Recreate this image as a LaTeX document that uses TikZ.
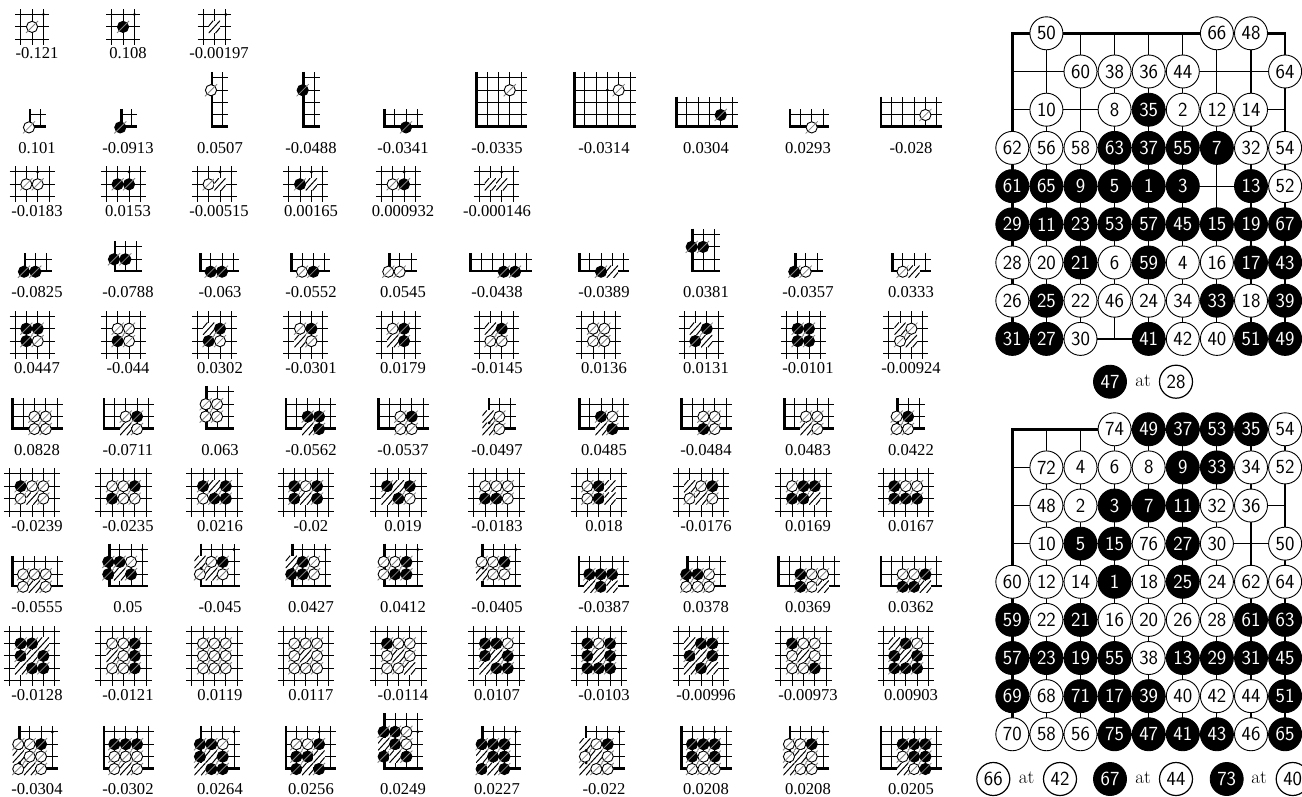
\documentclass[tikz,border=0pt]{standalone}
\usepackage{fontspec}
\newfontfamily\valfont{Liberation Serif}
\usetikzlibrary{positioning}

\newcounter{patt}
\def\laby{0}

% stones of one pattern: origin x, origin y, list of col/row/kind
\newcommand{\putstones}[3]{%
  \foreach \cc/\rr/\kk [count=\nn] in {#3} {
    \node[go\kk] (p\thepatt-\nn) at ({#1+\cc*11.35},{#2-\rr*12.4}) {};
  }
}

% open pattern: x0, bottom y, columns, rows, label x, label, stones
\newcommand{\freepat}[7]{%
  \stepcounter{patt}
  \foreach \ii in {1,...,#3}
    \draw[gridl] ({#1+(\ii-1)*11.35},{#2+5.5}) -- ({#1+(\ii-1)*11.35},{#2-(#4-1)*12.4-5.5});
  \foreach \jj in {1,...,#4}
    \draw[gridl] ({#1-5.5},{#2-(\jj-1)*12.4}) -- ({#1+(#3-1)*11.35+5.5},{#2-(\jj-1)*12.4});
  \putstones{#1}{#2}{#7}
  \node[vallbl] (v\thepatt) at (#5,\laby) {#6};
}

% corner pattern: bold x, bold y, columns, rows, label x, label, stones
\newcommand{\cornerpat}[7]{%
  \stepcounter{patt}
  \pgfmathsetmacro{\xo}{#1-1}
  \pgfmathsetmacro{\yo}{#2+0.7}
  \pgfmathsetmacro{\xe}{\xo+(#3-1)*11.35+5.5}
  \pgfmathsetmacro{\ye}{\yo-(#4-1)*12.4-6}
  \foreach \ii in {2,...,#3}
    \draw[gridl] ({\xo+(\ii-1)*11.35},\yo) -- ({\xo+(\ii-1)*11.35},\ye);
  \foreach \jj in {2,...,#4}
    \draw[gridl] (\xo,{\yo-(\jj-1)*12.4}) -- (\xe,{\yo-(\jj-1)*12.4});
  \draw[edgel] (#1,\ye) -- (#1,#2) -- (\xe,#2);
  \putstones{\xo}{\yo}{#7}
  \node[vallbl] (v\thepatt) at (#5,\laby) {#6};
}

\begin{document}
\begin{tikzpicture}[
    x=1pt, y=-1pt,
    gridl/.style={line width=1pt},
    edgel/.style={line width=2.8pt, line join=miter},
    slashl/.style={black!50, line width=0.8pt, shorten <=-2.5pt, shorten >=-2.5pt},
    vallbl/.style={font=\valfont\fontsize{16.6}{17}\selectfont, inner sep=0pt},
    gow/.style={draw, circle, fill=white, line width=0.9pt, minimum size=11.2pt, inner sep=0pt,
      append after command={(\tikzlastnode.south west) edge[slashl] (\tikzlastnode.north east)}},
    gob/.style={gow, fill=black},
    goh/.style={rectangle, fill=white, inner sep=0pt, minimum width=11.35pt, minimum height=12.4pt,
      path picture={
        \draw[line width=1pt] (path picture bounding box.south west) -- (path picture bounding box.north east);
        \draw[line width=1pt] ([yshift=7pt]path picture bounding box.south west) -- ([xshift=4.5pt]path picture bounding box.north west);
        \draw[line width=1pt] ([xshift=-4.5pt]path picture bounding box.south east) -- ([yshift=-7pt]path picture bounding box.north east);
      }},
    god/.style={circle, fill=black, minimum size=3.2pt, inner sep=0pt},
    bdw/.style={draw, circle, fill=white, text=black, line width=0.9pt, minimum size=33pt, inner sep=0pt,
      font=\sffamily\fontsize{20}{20}\selectfont},
    bdb/.style={bdw, fill=black, text=white},
    capw/.style={bdw, line width=1.2pt},
    atlbl/.style={font=\fontsize{19}{19}\selectfont, inner sep=0pt},
    thinb/.style={line width=1.1pt},
    boldb/.style={line width=2.7pt, line join=miter},
  ]
  \useasboundingbox (0,0) rectangle (1302,797);

  % row 1
  \def\laby{53}
  \freepat{20.7}{39.3}{3}{3}{37}{-0.121}{1/1/w,2/2/d}
  \freepat{111.7}{39.3}{3}{3}{128}{0.108}{1/1/b,2/2/d}
  \freepat{203}{39.3}{3}{3}{219}{-0.00197}{1/1/h,2/2/d}

  % row 2
  \def\laby{148}
  \cornerpat{30}{126.7}{2}{2}{37}{0.101}{0/0/w}
  \cornerpat{121.3}{126.7}{2}{2}{128}{-0.0913}{0/0/b}
  \cornerpat{212}{126.7}{2}{5}{220}{0.0507}{0/3/w}
  \cornerpat{303.7}{126.7}{2}{5}{311}{-0.0488}{0/3/b}
  \cornerpat{384.3}{126.7}{4}{2}{403}{-0.0341}{2/0/b}
  \cornerpat{476.7}{126.7}{5}{5}{497}{-0.0335}{3/3/w}
  \cornerpat{574.3}{126.7}{6}{5}{604}{-0.0314}{4/3/w,3/3/d}
  \cornerpat{676.3}{126.7}{6}{3}{706}{0.0304}{4/1/b}
  \cornerpat{790}{126.7}{4}{2}{808}{0.0293}{2/0/w}
  \cornerpat{881}{126.7}{6}{3}{911}{-0.028}{4/1/w}

  % row 3
  \def\laby{211}
  \freepat{15}{196.7}{4}{3}{37}{-0.0183}{1/1/w,2/1/w,2/2/d}
  \freepat{106.3}{196.7}{4}{3}{128}{0.0153}{1/1/b,2/1/b,2/2/d}
  \freepat{197.3}{196.7}{4}{3}{219}{-0.00515}{1/1/w,2/1/h,2/2/d}
  \freepat{288.7}{196.7}{4}{3}{311}{0.00165}{1/1/b,2/1/h,2/2/d}
  \freepat{381.3}{196.7}{4}{3}{403}{0.000932}{1/1/w,2/1/b,2/2/d}
  \freepat{479}{196.7}{4}{3}{497}{-0.000146}{1/1/h,2/1/h,2/2/d}

  % row 4
  \def\laby{292}
  \cornerpat{25}{271}{3}{2}{37}{-0.0825}{0/0/b,1/0/b}
  \cornerpat{115}{271}{3}{3}{128}{-0.0788}{0/1/b,1/1/b}
  \cornerpat{200.3}{271}{4}{2}{220}{-0.063}{1/0/b,2/0/b}
  \cornerpat{291.7}{271}{4}{2}{311}{-0.0552}{1/0/w,2/0/b}
  \cornerpat{389.3}{271}{3}{2}{403}{0.0545}{0/0/w,1/0/w}
  \cornerpat{470.7}{271}{6}{2}{497}{-0.0438}{3/0/b,4/0/b}
  \cornerpat{579.3}{271}{5}{2}{604}{-0.0389}{2/0/b,3/0/h}
  \cornerpat{692.7}{271}{3}{4}{706}{0.0381}{0/2/b,1/2/b}
  \cornerpat{795.3}{271}{3}{2}{808}{-0.0357}{0/0/b,1/0/w}
  \cornerpat{892.3}{271}{4}{2}{911}{0.0333}{1/0/w,2/0/h}

  % row 5
  \def\laby{368}
  \freepat{15}{353.5}{4}{4}{37}{0.0447}{1/2/b,2/2/b,1/1/b,2/1/w}
  \freepat{106.3}{353.5}{4}{4}{128}{-0.044}{1/2/w,2/2/w,1/1/b,2/1/w}
  \freepat{197.3}{353.5}{4}{4}{220}{0.0302}{1/2/h,2/2/b,1/1/b,2/1/w}
  \freepat{288.7}{353.5}{4}{4}{311}{-0.0301}{1/2/w,2/2/b,1/1/h,2/1/w}
  \freepat{381.3}{353.5}{4}{4}{403}{0.0179}{1/2/w,2/2/b,1/1/h,2/1/b}
  \freepat{479}{353.5}{4}{4}{497}{-0.0145}{1/2/h,2/2/b,1/1/w,2/1/w}
  \freepat{581.7}{353.5}{4}{4}{604}{0.0136}{1/2/w,2/2/w,1/1/w,2/1/w}
  \freepat{684}{353.5}{4}{4}{706}{0.0131}{1/2/h,2/2/b,1/1/b,2/1/h}
  \freepat{786.3}{353.5}{4}{4}{808}{-0.0101}{1/2/b,2/2/b,1/1/b,2/1/b}
  \freepat{888.7}{353.5}{4}{4}{911}{-0.00924}{1/2/h,2/2/w,1/1/w,2/1/h}

  % row 6
  \def\laby{450}
  \cornerpat{12.7}{428.3}{5}{3}{37}{0.0828}{2/1/w,3/1/w,2/0/w,3/0/w}
  \cornerpat{104}{428.3}{5}{3}{128}{-0.0711}{2/1/w,3/1/b,2/0/h,3/0/w}
  \cornerpat{206.7}{428.3}{3}{4}{220}{0.063}{0/2/w,1/2/w,0/1/w,1/1/w}
  \cornerpat{286}{428.3}{5}{3}{311}{-0.0562}{2/1/b,3/1/b,2/0/h,3/0/b}
  \cornerpat{378.7}{428.3}{5}{3}{403}{-0.0537}{2/1/w,3/1/b,2/0/w,3/0/w}
  \cornerpat{489}{428.3}{3}{3}{497}{-0.0497}{0/1/h,1/1/w,0/0/h,1/0/w,0.1/0.5/d}
  \cornerpat{579.3}{428.3}{5}{3}{604}{0.0485}{2/1/b,3/1/w,2/0/h,3/0/b}
  \cornerpat{681.7}{428.3}{5}{3}{706}{-0.0484}{2/1/w,3/1/w,2/0/b,3/0/w}
  \cornerpat{784.3}{428.3}{5}{3}{808}{0.0483}{2/1/w,3/1/w,2/0/h,3/0/w}
  \cornerpat{897.7}{428.3}{3}{3}{911}{0.0422}{0/1/w,1/1/b,0/0/w,1/0/w}

  % row 7
  \def\laby{526}
  \freepat{9.3}{511}{5}{4}{37}{-0.0239}{1/2/b,2/2/w,3/2/w,1/1/w,2/1/h,3/1/w}
  \freepat{100.7}{511}{5}{4}{128}{-0.0235}{1/2/w,2/2/w,3/2/b,1/1/b,2/1/w,3/1/w}
  \freepat{191.7}{511}{5}{4}{220}{0.0216}{1/2/b,2/2/h,3/2/b,1/1/w,2/1/b,3/1/b}
  \freepat{283}{511}{5}{4}{311}{-0.02}{1/2/b,2/2/w,3/2/b,1/1/b,2/1/h,3/1/b}
  \freepat{375.7}{511}{5}{4}{403}{0.019}{1/2/b,2/2/h,3/2/b,1/1/h,2/1/b,3/1/w}
  \freepat{473.7}{511}{5}{4}{497}{-0.0183}{1/2/w,2/2/w,3/2/w,1/1/b,2/1/b,3/1/w}
  \freepat{576}{511}{5}{4}{604}{0.018}{1/2/w,2/2/b,3/2/h,1/1/w,2/1/b,3/1/h}
  \freepat{678.3}{511}{5}{4}{706}{-0.0176}{1/2/h,2/2/w,3/2/b,1/1/w,2/1/h,3/1/w}
  \freepat{780.7}{511}{5}{4}{808}{0.0169}{1/2/w,2/2/b,3/2/b,1/1/b,2/1/b,3/1/h}
  \freepat{883}{511}{5}{4}{911}{0.0167}{1/2/b,2/2/w,3/2/w,1/1/b,2/1/b,3/1/b}

  % row 8
  \def\laby{607}
  \cornerpat{12.7}{586}{5}{3}{37}{-0.0555}{1/1/w,2/1/w,3/1/w,1/0/w,2/0/h,3/0/w}
  \cornerpat{109.3}{586}{4}{4}{128}{0.05}{0/2/b,1/2/b,2/2/w,0/1/b,1/1/h,2/1/b,3/3/d}
  \cornerpat{201}{586}{4}{4}{220}{-0.045}{0/2/h,1/2/w,2/2/b,0/1/w,1/1/h,2/1/w,3/3/d,0.1/1.5/d}
  \cornerpat{292.3}{586}{4}{4}{311}{0.0427}{0/2/h,1/2/b,2/2/w,0/1/b,1/1/b,2/1/w,3/3/d}
  \cornerpat{384.7}{586}{4}{4}{403}{0.0412}{0/2/w,1/2/w,2/2/b,0/1/w,1/1/b,2/1/b,3/3/d}
  \cornerpat{482.7}{586}{4}{4}{497}{-0.0405}{0/2/w,1/2/w,2/2/b,0/1/h,1/1/w,2/1/w,3/3/d,0.1/1.5/d}
  \cornerpat{579}{586}{5}{3}{604}{-0.0387}{1/1/b,2/1/b,3/1/b,1/0/h,2/0/b,3/0/h}
  \cornerpat{687.3}{586}{4}{3}{706}{0.0378}{0/1/b,1/1/b,2/1/w,0/0/w,1/0/w,2/0/w}
  \cornerpat{778.7}{586}{6}{3}{808}{0.0369}{2/1/b,3/1/w,4/1/w,2/0/b,3/0/w,4/0/h}
  \cornerpat{881}{586}{6}{3}{911}{0.0362}{2/1/w,3/1/w,4/1/b,2/0/b,3/0/b,4/0/h}

  % row 9
  \def\laby{695}
  \freepat{9.3}{680.7}{5}{5}{37}{-0.0128}{1/3/b,2/3/b,3/3/h,1/2/b,2/2/h,3/2/b,1/1/h,2/1/b,3/1/b}
  \freepat{100.7}{680.7}{5}{5}{128}{-0.0121}{1/3/w,2/3/w,3/3/b,1/2/h,2/2/w,3/2/b,1/1/w,2/1/w,3/1/b}
  \freepat{191.7}{680.7}{5}{5}{220}{0.0119}{1/3/w,2/3/w,3/3/w,1/2/w,2/2/w,3/2/w,1/1/w,2/1/w,3/1/w}
  \freepat{283}{680.7}{5}{5}{311}{0.0117}{1/3/w,2/3/w,3/3/w,1/2/w,2/2/h,3/2/w,1/1/w,2/1/w,3/1/w}
  \freepat{375.7}{680.7}{5}{5}{403}{-0.0114}{1/3/b,2/3/w,3/3/w,1/2/w,2/2/h,3/2/w,1/1/w,2/1/w,3/1/h}
  \freepat{473.7}{680.7}{5}{5}{497}{0.0107}{1/3/b,2/3/b,3/3/w,1/2/b,2/2/h,3/2/b,1/1/h,2/1/b,3/1/b}
  \freepat{576}{680.7}{5}{5}{604}{-0.0103}{1/3/b,2/3/w,3/3/b,1/2/b,2/2/h,3/2/b,1/1/b,2/1/b,3/1/b}
  \freepat{678.3}{680.7}{5}{5}{706}{-0.00996}{1/3/h,2/3/b,3/3/b,1/2/b,2/2/h,3/2/b,1/1/h,2/1/b,3/1/h}
  \freepat{780.7}{680.7}{5}{5}{808}{-0.00973}{1/3/b,2/3/w,3/3/w,1/2/w,2/2/h,3/2/w,1/1/w,2/1/w,3/1/b}
  \freepat{883}{680.7}{5}{5}{911}{0.00903}{1/3/h,2/3/b,3/3/w,1/2/b,2/2/h,3/2/b,1/1/b,2/1/b,3/1/b}

  % row 10
  \def\laby{789}
  \cornerpat{19.3}{768.3}{4}{4}{37}{-0.0304}{0/2/w,1/2/w,2/2/b,0/1/h,1/1/w,2/1/w,0/0/w,1/0/h,2/0/w,3/3/d,0.1/0.5/d}
  \cornerpat{104}{768.3}{5}{4}{128}{-0.0302}{1/2/b,2/2/b,3/2/b,1/1/w,2/1/w,3/1/w,1/0/w,2/0/h,3/0/w,3/3/d}
  \cornerpat{201}{768.3}{4}{4}{220}{0.0264}{0/2/b,1/2/b,2/2/w,0/1/b,1/1/h,2/1/b,0/0/h,1/0/b,2/0/b,3/3/d}
  \cornerpat{286}{768.3}{5}{4}{311}{0.0256}{1/2/w,2/2/w,3/2/b,1/1/b,2/1/b,3/1/h,1/0/b,2/0/h,3/0/b,3/3/d}
  \cornerpat{384.7}{768.3}{4}{5}{403}{0.0249}{0/3/b,1/3/b,2/3/w,0/2/h,1/2/b,2/2/w,0/1/b,1/1/h,2/1/b,3/3/d}
  \cornerpat{482.7}{768.3}{4}{4}{497}{0.0227}{0/2/b,1/2/b,2/2/b,0/1/h,1/1/b,2/1/b,0/0/b,1/0/h,2/0/b,3/3/d}
  \cornerpat{586}{768.3}{4}{4}{604}{-0.022}{0/2/h,1/2/w,2/2/b,0/1/w,1/1/h,2/1/w,0/0/h,1/0/w,2/0/w,3/3/d,0.1/1.5/d,0.1/0.5/d}
  \cornerpat{681.7}{768.3}{5}{4}{706}{0.0208}{1/2/b,2/2/b,3/2/b,1/1/b,2/1/w,3/1/b,1/0/w,2/0/w,3/0/w,3/3/d}
  \cornerpat{790}{768.3}{4}{4}{808}{0.0208}{0/2/w,1/2/w,2/2/b,0/1/w,1/1/h,2/1/w,0/0/h,1/0/w,2/0/w,3/3/d}
  \cornerpat{881}{768.3}{6}{4}{911}{0.0205}{2/2/b,3/2/b,4/2/b,2/1/w,3/1/b,4/1/b,2/0/h,3/0/w,4/0/b,3/3/d}

  % upper board
  \foreach \cc in {0,...,8}
    \draw[thinb] ({1012.3+\cc*34.1},33.3) -- ({1012.3+\cc*34.1},338.9);
  \foreach \rr in {0,...,8}
    \draw[thinb] (1012.3,{33.3+\rr*38.2}) -- (1285.1,{33.3+\rr*38.2});
  \draw[boldb] (1012.3,33.3) rectangle (1285.1,338.9);
  \foreach \num/\cc/\rr in {50/1/0,66/6/0,48/7/0,60/2/1,38/3/1,36/4/1,44/5/1,64/8/1,10/1/2,8/3/2,2/5/2,12/6/2,14/7/2,
      62/0/3,56/1/3,58/2/3,32/7/3,54/8/3,52/8/4,28/0/6,20/1/6,6/3/6,4/5/6,16/6/6,26/0/7,22/2/7,46/3/7,24/4/7,34/5/7,18/7/7,30/2/8,42/5/8,40/6/8}
    \node[bdw] (u\num) at ({1012.3+\cc*34.1},{33.3+\rr*38.2}) {\num};
  \foreach \num/\cc/\rr in {35/4/2,63/3/3,37/4/3,55/5/3,7/6/3,61/0/4,65/1/4,9/2/4,5/3/4,1/4/4,3/5/4,13/7/4,
      29/0/5,11/1/5,23/2/5,53/3/5,57/4/5,45/5/5,15/6/5,19/7/5,67/8/5,21/2/6,59/4/6,17/7/6,43/8/6,25/1/7,33/6/7,39/8/7,31/0/8,27/1/8,41/4/8,51/7/8,49/8/8}
    \node[bdb] (u\num) at ({1012.3+\cc*34.1},{33.3+\rr*38.2}) {\num};
  \node[bdb] (ucap47) at (1110,381.7) {47};
  \node[atlbl] (uat) at (1143,380.5) {at};
  \node[capw] (ucap28) at (1176,381.7) {28};

  % lower board
  \foreach \cc in {0,...,8}
    \draw[thinb] ({1012.3+\cc*34.1},429.3) -- ({1012.3+\cc*34.1},734.3);
  \foreach \rr in {0,...,8}
    \draw[thinb] (1012.3,{429.3+\rr*38.12}) -- (1285.1,{429.3+\rr*38.12});
  \draw[boldb] (1012.3,429.3) rectangle (1285.1,734.3);
  \foreach \num/\cc/\rr in {74/3/0,54/8/0,72/1/1,4/2/1,6/3/1,8/4/1,34/7/1,52/8/1,48/1/2,2/2/2,32/6/2,36/7/2,10/1/3,76/4/3,30/6/3,50/8/3,
      60/0/4,12/1/4,14/2/4,18/4/4,24/6/4,62/7/4,64/8/4,22/1/5,16/3/5,20/4/5,26/5/5,28/6/5,38/4/6,68/1/7,40/5/7,42/6/7,44/7/7,70/0/8,58/1/8,56/2/8,46/7/8}
    \node[bdw] (l\num) at ({1012.3+\cc*34.1},{429.3+\rr*38.12}) {\num};
  \foreach \num/\cc/\rr in {49/4/0,37/5/0,53/6/0,35/7/0,9/5/1,33/6/1,3/3/2,7/4/2,11/5/2,5/2/3,15/3/3,27/5/3,1/3/4,25/5/4,59/0/5,21/2/5,61/7/5,63/8/5,
      57/0/6,23/1/6,19/2/6,55/3/6,13/5/6,29/6/6,31/7/6,45/8/6,69/0/7,71/2/7,17/3/7,39/4/7,51/8/7,75/3/8,47/4/8,41/5/8,43/6/8,65/8/8}
    \node[bdb] (l\num) at ({1012.3+\cc*34.1},{429.3+\rr*38.12}) {\num};
  \node[capw] (lcap66) at (993.3,779) {66};
  \node[atlbl] (lat1) at (1026.7,778) {at};
  \node[capw] (lcap42) at (1060,779) {42};
  \node[bdb] (lcap67) at (1110,779) {67};
  \node[atlbl] (lat2) at (1143,778) {at};
  \node[capw] (lcap44) at (1176,779) {44};
  \node[bdb] (lcap73) at (1226.7,779) {73};
  \node[atlbl] (lat3) at (1259,778) {at};
  \node[capw] (lcap40) at (1292.7,779) {40};
\end{tikzpicture}
\end{document}
